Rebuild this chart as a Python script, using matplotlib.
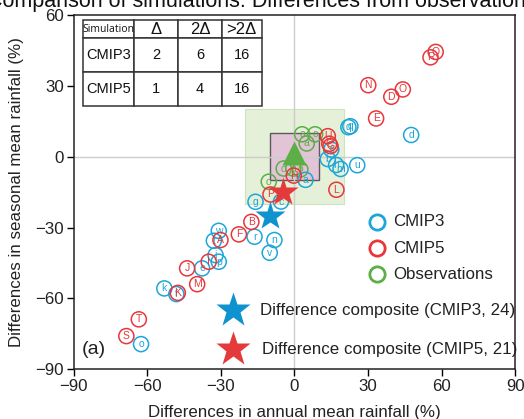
import matplotlib
matplotlib.use("Agg")
import matplotlib.pyplot as plt
from matplotlib.patches import Rectangle

# ---- data -------------------------------------------------------------
cmip3_labels = ["q", "q", "d", "s", "b", "h", "m", "u", "a", "g", "c", "r", "n",
                "v", "w", "t", "j", "p", "e", "k", "f", "o"]
cmip3_annual = [22.0, 22.8, 47.6, 15.0, 13.6, 17.0, 18.8, 25.6, 4.5, -15.9, -5.5,
                -16.3, -8.2, -10.1, -30.9, -32.9, -32.2, -30.9, -37.7, -53.1, -48.2, -62.6]
cmip3_seasonal = [12.5, 12.9, 9.2, 3.0, -1.0, -3.5, -5.2, -3.6, -9.8, -19.1, -19.0,
                  -33.9, -35.3, -40.7, -31.4, -35.6, -41.7, -44.5, -47.3, -55.8, -58.2, -79.4]

cmip5_labels = ["A", "B", "C", "D", "E", "F", "G", "H", "I", "J", "K",
                "L", "M", "N", "O", "P", "Q", "R", "S", "T", "U"]
cmip5_annual = [-30.2, -17.6, 14.2, 39.5, 33.3, -22.7, 14.7, -0.3, -35.0, -43.8, -47.6,
                17.1, -39.7, 30.1, 44.2, -9.8, 57.6, 55.5, -68.6, -63.5, 13.6]
cmip5_seasonal = [-35.3, -27.6, 5.5, 25.4, 16.2, -32.9, 4.5, -8.0, -44.5, -47.3, -57.7,
                  -14.0, -54.0, 30.3, 28.5, -16.0, 44.4, 42.1, -76.0, -68.9, 8.7]

obs_labels = ["a", "o", "a", "o", "a", "o", "o"]
obs_annual = [3.1, 8.4, 5.0, -4.4, -0.5, 2.4, -10.5]
obs_seasonal = [9.5, 9.5, 5.6, -5.0, -5.0, -5.4, -10.6]

obs_mean = (0.0, 1.5)
composite_cmip3 = (-10.0, -25.0)
composite_cmip5 = (-4.5, -15.0)

delta = 10          # half-width of the inner (Δ) box
two_delta = 20      # half-width of the outer (2Δ) box

table_header = ["Simulation", "Δ", "2Δ", ">2Δ"]
table_rows = [["CMIP3", "2", "6", "16"],
              ["CMIP5", "1", "4", "16"]]

legend_names = ["CMIP3", "CMIP5", "Observations"]
composite_names = ["Difference composite (CMIP3, 24)", "Difference composite (CMIP5, 21)"]

# ---- style ------------------------------------------------------------
C3 = "#1ea6d9"
C5 = "#e8363b"
CO = "#5cae47"
STAR3 = "#0f93cf"
STAR5 = "#e53a3c"
FS = 12.2
plt.rcParams["font.family"] = ["Liberation Sans", "DejaVu Sans"]

fig = plt.figure(figsize=(5.24, 4.19), dpi=100)
ax = fig.add_axes([0.141, 0.119, 0.842, 0.845])
ax.set_xlim(-90, 90)
ax.set_ylim(-90, 60)

# target boxes
ax.add_patch(Rectangle((-two_delta, -two_delta), 2 * two_delta, 2 * two_delta,
                       facecolor="#e5f0d8", edgecolor="#cfe3bd", lw=0.8, zorder=1))
ax.add_patch(Rectangle((-delta, -delta), 2 * delta, 2 * delta,
                       facecolor="#e3c4d6", edgecolor="#5a5a5a", lw=1.0, zorder=2))

ax.axvline(0, color="#cccccc", lw=1.0, zorder=2.5)
ax.axhline(0, color="#cccccc", lw=1.0, zorder=2.5)


def ring_points(xs, ys, labels, color, z):
    ax.scatter(xs, ys, s=118, facecolors="none", edgecolors=color,
               linewidths=1.1, zorder=z)
    for x, y, lab in zip(xs, ys, labels):
        ax.text(x, y, lab, color=color, fontsize=7.5, ha="center", va="center",
                zorder=z)


ring_points(obs_annual, obs_seasonal, obs_labels, CO, 4)
ring_points(cmip3_annual, cmip3_seasonal, cmip3_labels, C3, 5)
ring_points(cmip5_annual, cmip5_seasonal, cmip5_labels, C5, 6)

ax.plot(*obs_mean, marker="^", ms=17, color=CO, mec="none", zorder=7)
ax.plot(*composite_cmip3, marker="*", ms=22, color=STAR3, mec="none", zorder=8)
ax.plot(*composite_cmip5, marker="*", ms=22, color=STAR5, mec="none", zorder=8)

# axes
for sp in ax.spines.values():
    sp.set_linewidth(1.1)
    sp.set_color("#222222")
ax.set_xticks(range(-90, 91, 30))
ax.set_yticks(range(-90, 61, 30))
ax.set_xticklabels([f"{v}".replace("-", "\u2212") for v in range(-90, 91, 30)])
ax.set_yticklabels([f"{v}".replace("-", "\u2212") for v in range(-90, 61, 30)])
ax.tick_params(direction="out", length=5, width=1.0, labelsize=FS, pad=2,
               labelcolor="#222222")
ax.set_xlabel("Differences in annual mean rainfall (%)", fontsize=FS, labelpad=8,
              color="#222222")
ax.set_ylabel("Differences in seasonal mean rainfall (%)", fontsize=FS, labelpad=8,
              color="#222222")

# legend drawn by hand in axes fractions
legend_colors = [C3, C5, CO]
legend_y = [0.416, 0.341, 0.2675]
for name, col, yy in zip(legend_names, legend_colors, legend_y):
    ax.plot(0.688, yy, marker="o", ms=11, mfc="none", mec=col, mew=2.0,
            transform=ax.transAxes, clip_on=False, zorder=9)
    ax.text(0.723, yy, name, transform=ax.transAxes, fontsize=FS,
            va="center", ha="left", color="#222222", zorder=9)

star_cols = [STAR3, STAR5]
star_y = [0.1667, 0.0565]
star_text_x = [0.4218, 0.426]
for name, col, yy, tx in zip(composite_names, star_cols, star_y, star_text_x):
    ax.plot(0.36, yy, marker="*", ms=26, color=col, mec="none",
            transform=ax.transAxes, clip_on=False, zorder=9)
    ax.text(tx, yy, name, transform=ax.transAxes, fontsize=FS,
            va="center", ha="left", color="#222222", zorder=9)

ax.text(0.018, 0.0565, "(a)", transform=ax.transAxes, fontsize=14,
        va="center", ha="left", color="#222222", zorder=9)

# summary table
cells = [table_header] + table_rows
tbl = ax.table(cellText=cells, cellLoc="center",
               bbox=[0.0197, 0.743, 0.4059, 0.243], zorder=10)
tbl.auto_set_font_size(False)
col_w = [51.6, 44.0, 43.4, 40.0]
row_h = [18.3, 33.4, 34.3]
for (r, c), cell in tbl.get_celld().items():
    cell.set_width(col_w[c])
    cell.set_height(row_h[r])
    cell.set_linewidth(1.1)
    cell.set_edgecolor("#333333")
    cell.set_facecolor("white")
    txt = cell.get_text()
    txt.set_color("#111111")
    if r == 0 and c == 0:
        txt.set_fontsize(7.5)
        txt.set_fontfamily(["Open Sans", "DejaVu Sans"])
    elif r == 0:
        txt.set_fontsize(12)
    else:
        txt.set_fontsize(10.5)

fig.text(0.5, 0.983, "Comparison of simulations: Differences from observations",
         ha="center", va="baseline", fontsize=15.5, color="#111111")

fig.savefig("out.png", dpi=100)
